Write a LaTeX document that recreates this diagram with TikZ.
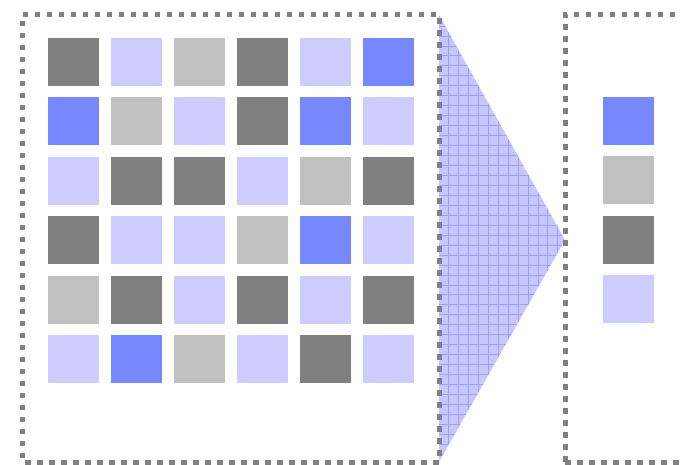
\documentclass[tikz,border=0pt]{standalone}
\usetikzlibrary{patterns.meta}

\definecolor{cellblue}{RGB}{119,136,255}
\definecolor{celllight}{RGB}{204,204,255}
\definecolor{cellsilver}{RGB}{192,192,192}
\definecolor{celldark}{RGB}{128,128,128}

\begin{document}
\begin{tikzpicture}[x=0.03cm,y=-0.03cm,
    cell/.style={minimum width=1.53cm,minimum height=1.44cm,inner sep=0pt,outer sep=0pt},
    frame/.style={draw=celldark,line width=0.15cm,dash pattern=on 0.17cm off 0.19cm}]
    \clip (0,0) rectangle (680,464);

    % Funnel between the two frames
    \fill[blue!22] (439,15) -- (565,240) -- (439,462) -- cycle;
    \fill[pattern={Lines[distance=8.5pt,angle=0,line width=0.4pt]},pattern color=blue!38]
        (439,15) -- (565,240) -- (439,462) -- cycle;
    \fill[pattern={Lines[distance=8.5pt,angle=90,line width=0.4pt]},pattern color=blue!38]
        (439,15) -- (565,240) -- (439,462) -- cycle;

    % Frames
    \draw[frame] (22.5,14.5) -- (439,14.5) -- (439,462) -- (22.5,462) -- cycle;
    \draw[frame] (565,462) -- (565,14.5) -- (700,14.5);
    \draw[frame] (565,462) -- (700,462);

    % Input grid
    \foreach \cols [count=\r] in {%
        {celldark,celllight,cellsilver,celldark,celllight,cellblue},
        {cellblue,cellsilver,celllight,celldark,cellblue,celllight},
        {celllight,celldark,celldark,celllight,cellsilver,celldark},
        {celldark,celllight,celllight,cellsilver,cellblue,celllight},
        {cellsilver,celldark,celllight,celldark,celllight,celldark},
        {celllight,cellblue,cellsilver,celllight,celldark,celllight}}
        \foreach \c [count=\k] in \cols
            \node[cell,fill=\c] (in\r\k) at ({73.5+63*(\k-1)},{62+59.4*(\r-1)}) {};

    % Output column
    \foreach \c [count=\r] in {cellblue,cellsilver,celldark,celllight}
        \node[cell,fill=\c] (out\r) at (628.5,{121+59.4*(\r-1)}) {};
\end{tikzpicture}
\end{document}
